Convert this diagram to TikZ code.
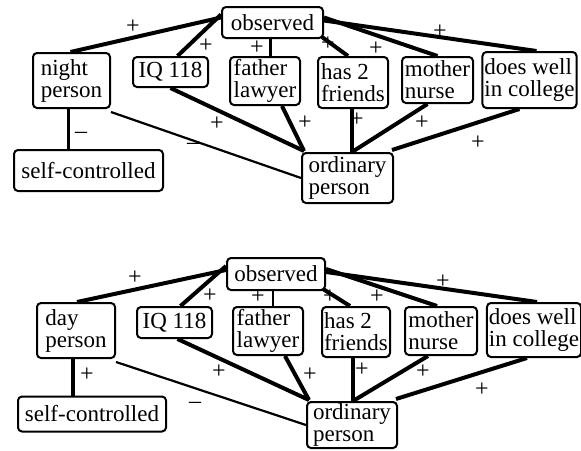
\documentclass[tikz,border=0pt]{standalone}
\usepackage{fontspec}
\setmainfont{Liberation Serif}
\begin{document}
\begin{tikzpicture}[x=1pt,y=-1pt,
  box/.style={draw,line width=2pt,rounded corners=4pt,align=left,inner xsep=2pt,inner ysep=1pt,
    font=\fontsize{23}{22}\selectfont},
  thick edge/.style={line width=4pt},
  thin edge/.style={line width=2.2pt},
  sign/.style={font=\fontsize{24}{24}\selectfont,inner sep=0pt}]
\useasboundingbox (0,0) rectangle (581,450);
% ---------- top diagram ----------
\node[box,minimum width=101,minimum height=31] (obsA) at (272.5,22.5) {observed};
\node[box,minimum width=77,minimum height=55] (nightA) at (71.5,80.5) {night\\person};
\node[box,minimum width=75,minimum height=30] (iqA) at (170.5,72) {IQ 118};
\node[box,minimum width=70,minimum height=48] (faA) at (265,81) {father\\lawyer};
\node[box,minimum width=70,minimum height=51] (hfA) at (353,82.5) {has 2\\friends};
\node[box,minimum width=71,minimum height=46] (mnA) at (437.5,80) {mother\\nurse};
\node[box,minimum width=91,minimum height=56] (dwA) at (529.5,80) {does well\\in college};
\node[box,minimum width=91,minimum height=50] (opA) at (347.5,178) {ordinary\\person};
\node[box,minimum width=149,minimum height=41] (scA) at (88.5,170.5) {self-controlled};

\draw[thick edge] ([yshift=5]obsA.west) -- ([xshift=-1]nightA.north);
\draw[thick edge] ([yshift=8]obsA.west) -- ([xshift=7]iqA.north);
\draw[thin edge] ([xshift=-2]obsA.south) -- ([xshift=-2]obsA.south |- faA.north);
\draw[thick edge] ([xshift=-2,yshift=2]obsA.south east) -- ([xshift=-5]hfA.north);
\draw[thick edge] ([yshift=5]obsA.east) -- ([xshift=0]mnA.north);
\draw[thick edge] ([yshift=2]obsA.east) -- ([xshift=7]dwA.north);
\draw[thin edge] ([yshift=-3]nightA.south east) -- (opA.west);
\draw[thin edge] ([xshift=-3]nightA.south) -- ([xshift=-3]nightA.south |- scA.north);
\draw[thick edge] (iqA.south) -- ([xshift=3,yshift=1]opA.north west);
\draw[thick edge] ([xshift=17]faA.south) -- ([xshift=3,yshift=1]opA.north west);
\draw[thick edge] ([xshift=-1]hfA.south) coordinate (hA) -- (hA |- opA.north) coordinate (hoA);
\draw[thick edge] ([xshift=-10]mnA.south) -- (hoA);
\draw[thick edge] ([xshift=-10]dwA.south) -- ([xshift=-2,yshift=2]opA.north east);

\node[sign] (sA1) at (133,27) {+};
\node[sign] (sA2) at (206,46) {+};
\node[sign] (sA3) at (257,48) {+};
\node[sign] (sA4) at (328,44) {+};
\node[sign] (sA5) at (376,49) {+};
\node[sign] (sA6) at (440,32) {+};
\node[sign] (sA7) at (81,135) {–};
\node[sign] (sA8) at (193,146) {–};
\node[sign] (sA9) at (217,124) {+};
\node[sign] (sA10) at (305,123) {+};
\node[sign] (sA11) at (357,120) {+};
\node[sign] (sA12) at (422,123) {+};
\node[sign] (sA13) at (478,143) {+};

% ---------- bottom diagram ----------
\node[box,minimum width=98,minimum height=32] (obsB) at (276,274) {observed};
\node[box,minimum width=78,minimum height=55] (dayB) at (76,330.5) {day\\person};
\node[box,minimum width=75,minimum height=31] (iqB) at (174.5,322.5) {IQ 118};
\node[box,minimum width=70,minimum height=48] (faB) at (268,331) {father\\lawyer};
\node[box,minimum width=68,minimum height=50] (hfB) at (356,332) {has 2\\friends};
\node[box,minimum width=72,minimum height=48] (mnB) at (441,331) {mother\\nurse};
\node[box,minimum width=92,minimum height=54] (dwB) at (534,330) {does well\\in college};
\node[box,minimum width=90,minimum height=46] (opB) at (352,425) {ordinary\\person};
\node[box,minimum width=148,minimum height=35] (scB) at (92,414) {self-controlled};

\draw[thick edge] ([yshift=4]obsB.west) -- ([xshift=1]dayB.north);
\draw[thick edge] ([yshift=8]obsB.west) -- ([xshift=6]iqB.north);
\draw[thin edge] ([xshift=-3]obsB.south) -- ([xshift=-3]obsB.south |- faB.north);
\draw[thick edge] ([xshift=-3,yshift=2]obsB.south east) -- ([xshift=-6]hfB.north);
\draw[thick edge] ([yshift=5]obsB.east) -- ([xshift=-4]mnB.north);
\draw[thick edge] ([yshift=2]obsB.east) -- ([xshift=3]dwB.north);
\draw[thin edge] ([yshift=-3]dayB.south east) -- (opB.west);
\draw[thick edge] ([xshift=-3]dayB.south) -- ([xshift=-3]dayB.south |- scB.north);
\draw[thick edge] ([xshift=3]iqB.south) -- ([xshift=3,yshift=1]opB.north west);
\draw[thick edge] ([xshift=17]faB.south) -- ([xshift=3,yshift=1]opB.north west);
\draw[thick edge] ([xshift=-3]hfB.south) coordinate (hB) -- (hB |- opB.north) coordinate (hoB);
\draw[thick edge] ([xshift=-13]mnB.south) -- (hoB);
\draw[thick edge] ([xshift=-7]dwB.south) -- ([xshift=-2,yshift=2]opB.north east);

\node[sign] (sB1) at (135,278) {+};
\node[sign] (sB2) at (210,296) {+};
\node[sign] (sB3) at (258,297) {+};
\node[sign] (sB4) at (330,297) {+};
\node[sign] (sB5) at (377,297) {+};
\node[sign] (sB6) at (443,282) {+};
\node[sign] (sB7) at (87,375) {+};
\node[sign] (sB8) at (195,405) {–};
\node[sign] (sB9) at (219,372) {+};
\node[sign] (sB10) at (310,375) {+};
\node[sign] (sB11) at (362,370) {+};
\node[sign] (sB12) at (423,372) {+};
\node[sign] (sB13) at (482,390) {+};
\end{tikzpicture}
\end{document}
